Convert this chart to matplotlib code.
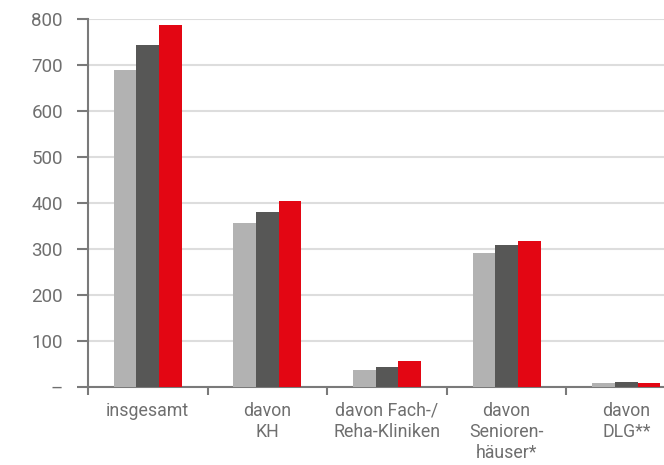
import numpy as np
import matplotlib
matplotlib.use('Agg')
import matplotlib.pyplot as plt

# Data
categories = ['insgesamt', 'davon\nKH', 'davon Fach-/\nReha-Kliniken',
              'davon\nSenioren-\nhäuser*', 'davon\nDLG**']
series_a = [689, 356, 36, 291, 8]
series_b = [743, 380, 43, 308, 10]
series_c = [787, 404, 56, 317, 7]
y_ticks = [0, 100, 200, 300, 400, 500, 600, 700, 800]
y_tick_labels = ['–', '100', '200', '300', '400', '500', '600', '700', '800']

colors = ['#b2b2b2', '#575756', '#e30613']
text_color = '#6f6f6f'
axis_color = '#7a7a7a'

plt.rcParams['font.family'] = ['Roboto', 'DejaVu Sans']

fig = plt.figure(figsize=(6.64, 4.65), dpi=100)
W, H = 664, 465
left, right, top, bottom = 88, 664, 19, 386.7
ax = fig.add_axes([left / W, (H - bottom) / H, (right - left) / W, (bottom - top) / H])

x = np.arange(len(categories)) + 0.5
bw = 0.19
for i, (vals, col) in enumerate(zip([series_a, series_b, series_c], colors)):
    ax.bar(x + (i - 1) * bw, vals, width=bw, color=col, zorder=3)

ax.set_yticks(y_ticks)
ax.set_yticklabels(y_tick_labels)
ax.yaxis.grid(True, color='#dddddd', linewidth=1.5, zorder=0)
ax.set_axisbelow(True)

ax.set_xticks(np.arange(len(categories) + 1))
ax.set_xticklabels([])
ax.set_xticks(x, minor=True)
ax.set_xticklabels(categories, minor=True, fontsize=12.8, color=text_color,
                   linespacing=1.2, va='top')
ax.tick_params(axis='x', which='minor', length=0, pad=11)
ax.tick_params(axis='x', which='major', length=6, width=1.5, color=axis_color)
ax.tick_params(axis='y', length=8, width=1.5, color=axis_color,
               labelsize=13.5, labelcolor=text_color, pad=10)

# category width in px is ~119.6, axis is cut at the right edge of the image
ax.set_xlim(0, (right - left) / 119.6)
ax.set_ylim(0, 800)

for s in ['top', 'right']:
    ax.spines[s].set_visible(False)
for s in ['left', 'bottom']:
    ax.spines[s].set_color(axis_color)
    ax.spines[s].set_linewidth(1.5)

fig.savefig('out.png', dpi=100)
